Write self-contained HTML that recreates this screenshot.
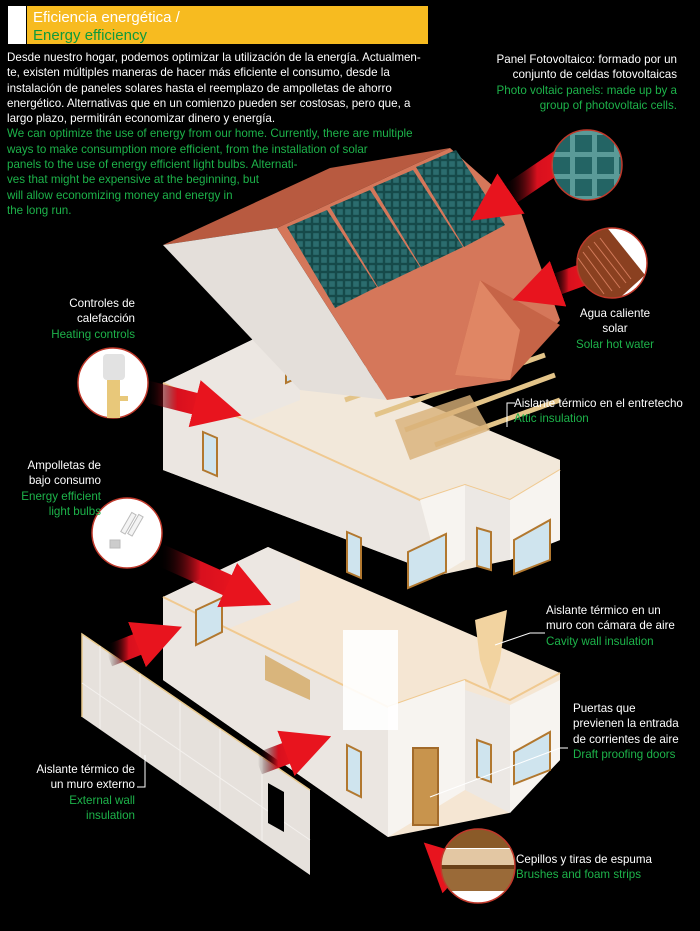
<!DOCTYPE html>
<html><head><meta charset="utf-8"><style>
body{margin:0;background:#000;width:700px;height:931px;overflow:hidden;position:relative;font-family:"Liberation Sans",sans-serif}
.t{position:absolute;font-size:11.6px;line-height:15.3px;color:#fff;white-space:nowrap}
.g{color:#1db34a}
.r{text-align:right}
</style></head><body>
<svg width="700" height="931" style="position:absolute;left:0;top:0">
<defs>
<linearGradient id="ar" x1="0" y1="0" x2="1" y2="0"><stop offset="0" stop-color="#000" stop-opacity="0"/><stop offset="0.55" stop-color="#d8101e"/><stop offset="1" stop-color="#e8141e"/></linearGradient>
<pattern id="pv" width="8" height="8" patternUnits="userSpaceOnUse"><rect width="8" height="8" fill="#164a4a"/><rect x="1.2" y="1.2" width="5.6" height="5.6" fill="#2b6c6e"/></pattern>
<pattern id="pv2" width="22" height="22" patternUnits="userSpaceOnUse"><rect width="22" height="22" fill="#5a9a98"/><rect x="3" y="3" width="17" height="17" fill="#236464"/></pattern>
<marker id="ah" viewBox="0 0 10 10" refX="2" refY="5" markerWidth="2.2" markerHeight="2.6" orient="auto"><path d="M0,0L10,5L0,10z" fill="#e8141e"/></marker>
<clipPath id="c1"><circle cx="612" cy="263" r="35"/></clipPath>
<clipPath id="c2"><circle cx="478" cy="866" r="37"/></clipPath>
</defs>
<rect x="8" y="6" width="18" height="38" fill="#fff"/>
<rect x="27" y="6" width="401" height="38" fill="#f7bb20"/>

<!-- external wall panel -->
<polygon points="82,634 310,790 310,875 82,717" fill="#e6e1dc"/>
<polyline points="82,717 82,634 310,790" fill="none" stroke="#e8c98d" stroke-width="1.5"/>
<g stroke="#f4f1ee" stroke-width="1"><line x1="100" y1="646" x2="100" y2="729"/><line x1="140" y1="674" x2="140" y2="757"/><line x1="180" y1="702" x2="180" y2="785"/><line x1="220" y1="729" x2="220" y2="812"/><line x1="262" y1="757" x2="262" y2="840"/><line x1="82" y1="683" x2="310" y2="840"/></g>
<polygon points="268,783 284,792 284,832 268,823" fill="#000"/>

<!-- lower floor -->
<polygon points="163,597 268,547 560,673 560,760 509,813 388,837 163,680" fill="#f5e6d3"/>
<polygon points="163,597 268,547 300,562 300,600 200,640 163,650" fill="#ece7e2"/>
<polygon points="250,640 388,707 388,837 163,680 163,597 250,640" fill="#ebe6e1"/>
<polyline points="163,597 388,707 465,680 510,700 560,673" fill="none" stroke="#f0c990" stroke-width="2"/>
<polygon points="388,707 465,680 465,790 388,837" fill="#f7f4f0"/>
<polygon points="465,690 510,705 510,813 465,790" fill="#ece8e4"/>
<polygon points="510,705 560,680 560,760 510,813" fill="#f7f4f0"/>
<rect x="343" y="630" width="55" height="100" fill="#fff" opacity="0.9"/>
<polygon points="475,620 507,610 500,660 490,690 480,660" fill="#f2d3a0"/>
<rect x="413" y="748" width="25" height="77" fill="#c8944d" stroke="#a26a2a" stroke-width="2"/>
<polygon points="347,745 361,752 361,797 347,790" fill="#cfe4ee" stroke="#b2782f" stroke-width="2"/>
<polygon points="477,740 491,745 491,782 477,777" fill="#cfe4ee" stroke="#b2782f" stroke-width="2"/>
<polygon points="514,752 550,732 550,770 514,784" fill="#cfe4ee" stroke="#b2782f" stroke-width="2"/>
<polygon points="196,610 222,598 222,632 196,645" fill="#cfe4ee" stroke="#b2782f" stroke-width="2"/>
<polygon points="265,655 310,680 310,700 265,680" fill="#d9b57c"/>

<!-- upper floor -->
<polygon points="163,383 262,335 560,460 560,540 509,560 440,575 163,470" fill="#f2e8da"/>
<polygon points="163,383 262,335 300,355 300,400 250,420 163,410" fill="#ece7e2"/>
<g stroke="#e3c489" stroke-width="5"><line x1="315" y1="385" x2="510" y2="318"/><line x1="345" y1="400" x2="530" y2="335"/><line x1="375" y1="415" x2="545" y2="355"/><line x1="405" y1="430" x2="555" y2="375"/><line x1="435" y1="445" x2="560" y2="400"/></g>
<polygon points="395,420 470,395 490,430 410,460" fill="#d8b078" opacity="0.8"/>
<polygon points="163,383 420,500 440,575 163,470" fill="#ebe6e1"/>
<polyline points="163,383 420,500 465,485 510,500 560,470" fill="none" stroke="#f0c990" stroke-width="2"/>
<polygon points="420,500 465,485 465,560 440,575" fill="#f7f4f0"/>
<polygon points="465,485 510,500 510,560 465,560" fill="#ece8e4"/>
<polygon points="510,500 560,470 560,540 510,560" fill="#f7f4f0"/>
<polygon points="203,432 217,438 217,476 203,470" fill="#cfe4ee" stroke="#b2782f" stroke-width="2"/>
<polygon points="347,532 361,538 361,578 347,572" fill="#cfe4ee" stroke="#b2782f" stroke-width="2"/>
<polygon points="408,552 446,534 446,572 408,588" fill="#cfe4ee" stroke="#b2782f" stroke-width="2"/>
<polygon points="477,528 491,532 491,570 477,566" fill="#cfe4ee" stroke="#b2782f" stroke-width="2"/>
<polygon points="514,540 550,520 550,560 514,574" fill="#cfe4ee" stroke="#b2782f" stroke-width="2"/>
<polygon points="286,353 308,343 308,373 286,383" fill="#cfe4ee" stroke="#b2782f" stroke-width="2"/>

<!-- roof -->
<polygon points="163,245 330,168 450,148 277,228" fill="#b85a40"/>
<polygon points="163,245 277,228 387,400 300,390" fill="#e4dfda"/>
<polygon points="277,228 450,148 520,210 560,320 510,380 387,400" fill="#d5775a"/>
<polygon points="480,280 560,325 510,380 455,375" fill="#c66447"/>
<polygon points="480,280 520,330 510,380 455,375" fill="#e08664"/>
<polygon points="287,227 327,210 377,287 335,308" fill="url(#pv)"/>
<polygon points="330,207 370,190 420,267 378,287" fill="url(#pv)"/>
<polygon points="373,187 413,170 463,247 421,267" fill="url(#pv)"/>
<polygon points="416,167 456,150 505,225 464,247" fill="url(#pv)"/>

<!-- arrows -->
<g stroke="url(#ar)" stroke-width="22" marker-end="url(#ah)" fill="none">
<line x1="565" y1="157" x2="503" y2="199"/>
<line x1="585" y1="274" x2="549" y2="287"/>
<line x1="145" y1="391" x2="204" y2="406"/>
<line x1="158" y1="554" x2="236" y2="589"/>
<line x1="108" y1="656" x2="146" y2="641"/>
<line x1="258" y1="764" x2="295" y2="750"/>
<line x1="468" y1="884" x2="452" y2="869"/>
</g>

<!-- circles -->
<circle cx="587" cy="165" r="35" fill="url(#pv2)" stroke="#c0392b" stroke-width="1.5"/>
<g clip-path="url(#c1)">
<rect x="570" y="220" width="90" height="90" fill="#fff"/>
<path d="M570,250 L605,225 L645,275 L612,305 L570,290 Z" fill="#8a4020"/>
<g stroke="#d27a5a" stroke-width="1"><line x1="588" y1="246" x2="620" y2="288"/><line x1="594" y1="242" x2="626" y2="283"/><line x1="600" y1="238" x2="631" y2="279"/><line x1="583" y1="252" x2="612" y2="291"/><line x1="578" y1="258" x2="604" y2="294"/></g>
</g>
<circle cx="612" cy="263" r="35" fill="none" stroke="#c0392b" stroke-width="1.5"/>
<circle cx="113" cy="383" r="35" fill="#fff" stroke="#c0392b" stroke-width="1.5"/>
<rect x="103" y="354" width="22" height="26" rx="4" fill="#e2e2e2"/><rect x="107" y="380" width="13" height="38" fill="#e8c87a"/><rect x="120" y="396" width="8" height="5" fill="#e8c87a"/>
<circle cx="127" cy="533" r="35" fill="#fff" stroke="#c0392b" stroke-width="1.5"/>
<g fill="#f4f4f4" stroke="#bbb"><rect x="126" y="512" width="5" height="22" transform="rotate(30 128 523)"/><rect x="133" y="514" width="5" height="22" transform="rotate(30 135 525)"/><rect x="110" y="540" width="10" height="8" fill="#ccc"/></g>
<g clip-path="url(#c2)">
<rect x="440" y="828" width="80" height="76" fill="#fff"/>
<rect x="440" y="828" width="80" height="20" fill="#8a5a28"/><rect x="440" y="849" width="80" height="16" fill="#e3c7a3"/><rect x="440" y="865" width="80" height="4" fill="#6a4018"/><rect x="440" y="869" width="80" height="22" fill="#9a6a38"/>
</g>
<circle cx="478" cy="866" r="37" fill="none" stroke="#c0392b" stroke-width="1.5"/>

<g stroke="#fff" fill="none" stroke-width="1"><path d="M145,755 L145,787 L137,787"/><path d="M515,403 L507,403 L507,427"/><path d="M495,645 L530,633 L545,633"/><path d="M430,797 L560,748 L568,748"/></g>
</svg>

<div class="t" style="left:33px;top:9px;font-size:15px;line-height:18px">Eficiencia energética /<br><span style="color:#0f9a3c">Energy efficiency</span></div>
<div class="t" style="left:7px;top:50px">Desde nuestro hogar, podemos optimizar la utilización de la energía. Actualmen-<br>te, existen múltiples maneras de hacer más eficiente el consumo, desde la<br>instalación de paneles solares hasta el reemplazo de ampolletas de ahorro<br>energético. Alternativas que en un comienzo pueden ser costosas, pero que, a<br>largo plazo, permitirán economizar dinero y energía.<br><span class="g">We can optimize the use of energy from our home. Currently, there are multiple<br>ways to make consumption more efficient, from the installation of solar<br>panels to the use of energy efficient light bulbs. Alternati-<br>ves that might be expensive at the beginning, but<br>will allow economizing money and energy in<br>the long run.</span></div>
<div class="t r" style="right:23px;top:52px">Panel Fotovoltaico: formado por un<br>conjunto de celdas fotovoltaicas<br><span class="g">Photo voltaic panels: made up by a<br>group of photovoltaic cells.</span></div>
<div class="t" style="left:570px;top:306px;text-align:center;width:90px">Agua caliente<br>solar<br><span class="g">Solar hot water</span></div>
<div class="t r" style="right:565px;top:296px">Controles de<br>calefacción<br><span class="g">Heating controls</span></div>
<div class="t" style="left:514px;top:396px">Aislante térmico en el entretecho<br><span class="g">Attic insulation</span></div>
<div class="t r" style="right:599px;top:458px">Ampolletas de<br>bajo consumo<br><span class="g">Energy efficient<br>light bulbs</span></div>
<div class="t" style="left:546px;top:603px">Aislante térmico en un<br>muro con cámara de aire<br><span class="g">Cavity wall insulation</span></div>
<div class="t" style="left:573px;top:701px">Puertas que<br>previenen la entrada<br>de corrientes de aire<br><span class="g">Draft proofing doors</span></div>
<div class="t r" style="right:565px;top:762px">Aislante térmico de<br>un muro externo<br><span class="g">External wall<br>insulation</span></div>
<div class="t" style="left:516px;top:852px">Cepillos y tiras de espuma<br><span class="g">Brushes and foam strips</span></div>
</body></html>
